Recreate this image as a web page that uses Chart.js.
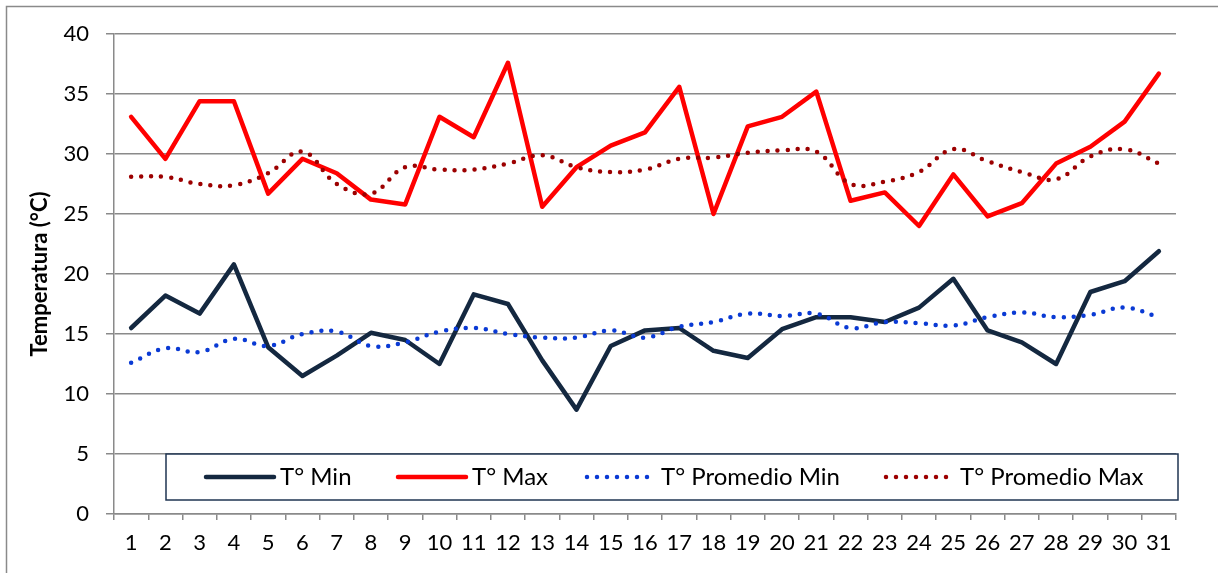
<!DOCTYPE html>
<html lang="es">
<head>
<meta charset="utf-8">
<title>Temperaturas</title>
<script src="https://cdn.jsdelivr.net/npm/chart.js@4.4.0/dist/chart.umd.min.js"></script>
<style>
  html, body { margin: 0; padding: 0; background: #fff; }
  #wrap { width: 1218px; height: 573px; }
</style>
</head>
<body>
<div id="wrap"><canvas id="chart" width="1218" height="573"></canvas></div>
<script>
// dias del mes
const dias = ["1","2","3","4","5","6","7","8","9","10","11","12","13","14","15","16",
  "17","18","19","20","21","22","23","24","25","26","27","28","29","30","31"];

const tMin = [15.5, 18.2, 16.7, 20.8, 13.9, 11.5, 13.2, 15.1, 14.5, 12.5, 18.3, 17.5, 12.8, 8.7, 14.0, 15.3,
  15.5, 13.6, 13.0, 15.4, 16.4, 16.4, 16.0, 17.2, 19.6, 15.3, 14.3, 12.5, 18.5, 19.4, 21.9];

const tMax = [33.1, 29.6, 34.4, 34.4, 26.7, 29.6, 28.4, 26.2, 25.8, 33.1, 31.4, 37.6, 25.6, 28.9, 30.7, 31.8,
  35.6, 25.0, 32.3, 33.1, 35.2, 26.1, 26.8, 24.0, 28.3, 24.8, 25.9, 29.2, 30.6, 32.7, 36.7];

const promMin = [12.6, 13.8, 13.5, 14.6, 14.0, 15.0, 15.2, 14.0, 14.3, 15.2, 15.5, 15.0, 14.7, 14.7, 15.3, 14.7,
  15.6, 16.0, 16.7, 16.5, 16.7, 15.5, 16.0, 15.9, 15.7, 16.4, 16.8, 16.4, 16.6, 17.2, 16.4];

const promMax = [28.1, 28.1, 27.5, 27.4, 28.4, 30.2, 27.5, 26.7, 28.9, 28.7, 28.7, 29.2, 29.9, 28.9, 28.5, 28.7,
  29.6, 29.7, 30.1, 30.3, 30.2, 27.5, 27.7, 28.5, 30.4, 29.4, 28.5, 27.9, 29.8, 30.4, 29.2];

const yTicks = [0, 5, 10, 15, 20, 25, 30, 35, 40];

const gris = '#8a8a8a';
const fuente = 'Lato, "Open Sans", sans-serif';

// marco exterior + fondo
const marco = {
  id: 'marco',
  beforeDraw(chart) {
    const ctx = chart.ctx;
    ctx.save();
    ctx.fillStyle = '#fff';
    ctx.fillRect(0, 0, chart.width, chart.height);
    ctx.strokeStyle = gris;
    ctx.lineWidth = 1.5;
    ctx.strokeRect(6.5, 6.5, chart.width + 50, chart.height + 50);
    ctx.restore();
  }
};

// leyenda dentro del area del grafico, como en excel
const leyenda = {
  id: 'leyenda',
  afterDraw(chart) {
    const ctx = chart.ctx;
    const box = { x: 166, y: 454, w: 1012, h: 46 };
    const starts = [206, 398, 587, 886];
    const cy = box.y + box.h / 2;
    ctx.save();
    ctx.fillStyle = '#fff';
    ctx.fillRect(box.x, box.y, box.w, box.h);
    ctx.strokeStyle = '#1f3552';
    ctx.lineWidth = 1.5;
    ctx.strokeRect(box.x, box.y, box.w, box.h);
    chart.data.datasets.forEach((ds, i) => {
      const x0 = starts[i];
      ctx.beginPath();
      ctx.strokeStyle = ds.borderColor;
      ctx.lineWidth = ds.borderWidth;
      ctx.lineCap = 'round';
      ctx.setLineDash(ds.borderDash || []);
      ctx.moveTo(x0, cy);
      ctx.lineTo(x0 + 68, cy);
      ctx.stroke();
      ctx.setLineDash([]);
      ctx.fillStyle = '#000';
      ctx.font = '24px ' + fuente;
      ctx.textBaseline = 'middle';
      ctx.fillText(ds.label, x0 + 74, cy);
    });
    ctx.restore();
  }
};

const datasets = [
  { label: 'T° Min', data: tMin, borderColor: '#142840', borderWidth: 4.5, order: 4 },
  { label: 'T° Max', data: tMax, borderColor: '#ff0000', borderWidth: 4.5, order: 3 },
  { label: 'T° Promedio Min', data: promMin, borderColor: '#0a3ad4', borderWidth: 4.5,
    borderDash: [0, 10], tension: 0.4, order: 2 },
  { label: 'T° Promedio Max', data: promMax, borderColor: '#9c0000', borderWidth: 4.5,
    borderDash: [0, 10], tension: 0.4, order: 1 }
];
datasets.forEach(d => {
  d.pointRadius = 0;
  d.fill = false;
  d.borderCapStyle = 'round';
  d.borderJoinStyle = 'round';
});

new Chart(document.getElementById('chart'), {
  type: 'line',
  data: { labels: dias, datasets: datasets },
  options: {
    responsive: false,
    animation: false,
    devicePixelRatio: 1,
    layout: { padding: { left: 0, right: 42, top: 34, bottom: 0 } },
    plugins: {
      legend: { display: false },
      tooltip: { enabled: false }
    },
    scales: {
      x: {
        offset: true,
        grid: { display: true, drawOnChartArea: false, drawTicks: true, tickLength: 6,
          color: gris, lineWidth: 1.5, offset: true },
        border: { display: true, color: gris, width: 1.5 },
        ticks: { color: '#000', font: { family: fuente, size: 22 }, padding: 10,
          maxRotation: 0, autoSkip: false },
        afterFit(scale) { scale.height = 59; }
      },
      y: {
        min: 0,
        max: 40,
        afterBuildTicks(scale) { scale.ticks = yTicks.map(v => ({ value: v })); },
        grid: { color: gris, lineWidth: 1.5, tickLength: 8 },
        border: { display: true, color: gris, width: 1.5 },
        ticks: { color: '#000', font: { family: fuente, size: 22 }, padding: 17 },
        title: { display: true, text: 'Temperatura (°C)', color: '#000',
          font: { family: fuente, size: 22, weight: 'bold' }, padding: { top: 27, bottom: 0 } },
        afterFit(scale) { scale.width = 114; }
      }
    }
  },
  plugins: [marco, leyenda]
});
</script>
</body>
</html>
